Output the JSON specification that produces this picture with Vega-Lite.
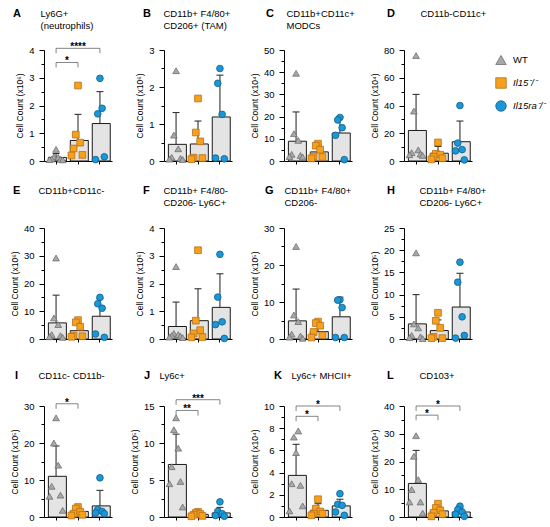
{
  "$schema": "https://vega.github.io/schema/vega-lite/v6.json",
  "background": "white",
  "padding": {"left": 10, "top": 8, "right": 2, "bottom": 5},
  "bounds": "flush",
  "columns": 4,
  "spacing": {"row": 67, "column": 52},
  "concat": [
    {
      "width": 68, "height": 111,
      "title": {"text": "A", "dx": -31},
      "encoding": {"x": {"field": "g", "type": "nominal", "title": null, "scale": {"domain": ["WT", "Il15", "Il15ra"], "paddingInner": 0.3, "paddingOuter": 0.2}, "axis": {"orient": "bottom", "domain": false, "ticks": false}}},
      "layer": [
        {"data": {"name": "bars"}, "transform": [{"filter": "datum.p == 'A'"}], "mark": {"type": "rule", "color": "#333", "strokeWidth": 1.1},
         "encoding": {"x": {"field": "g", "type": "nominal", "title": null, "axis": {"orient": "top", "title": ["Ly6G+", "(neutrophils)"], "titleX": -4, "titleY": -42}}, "y": {"field": "mean", "type": "quantitative"}, "y2": {"field": "hi"}}},
        {"data": {"name": "bars"}, "transform": [{"filter": "datum.p == 'A'"}], "mark": {"type": "bar", "fill": "#e4e4e4", "stroke": "#1a1a1a", "strokeWidth": 1},
         "encoding": {"x": {"field": "g", "type": "nominal", "title": null, "axis": {"orient": "bottom"}}, "y": {"field": "mean", "type": "quantitative", "scale": {"domain": [0, 4], "nice": false}, "axis": {"title": "Cell Count (x10⁶)", "values": [0, 0.5, 1, 1.5, 2, 2.5, 3, 3.5, 4], "format": "~g", "tickCount": 50, "labelOverlap": false, "labelExpr": "datum.value % 1 == 0 ? datum.label : ''", "tickSize": {"condition": {"test": "datum.value % 1 == 0", "value": 5}, "value": 3}}}}},
        {"data": {"name": "bars"}, "transform": [{"filter": "datum.p == 'A'"}], "mark": {"type": "tick", "orient": "horizontal", "size": 7, "thickness": 1.1, "color": "#333", "opacity": 1},
         "encoding": {"y": {"field": "hi", "type": "quantitative"}}},
        {"data": {"name": "pts"}, "transform": [{"filter": "datum.p == 'A'"}], "mark": {"type": "point", "filled": true, "size": 45, "strokeWidth": 0.8, "opacity": 1},
         "encoding": {
           "y": {"field": "v", "type": "quantitative"},
           "xOffset": {"field": "m", "type": "nominal", "scale": {"domain": [1, 2, 3, 4, 5, 6, 7]}},
           "shape": {"field": "g", "type": "nominal", "scale": {"domain": ["WT", "Il15", "Il15ra"], "range": ["triangle-up", "square", "circle"]}, "legend": {"title": null, "labelExpr": "datum.value == 'Il15' ? 'Il15⁻/⁻' : datum.value == 'Il15ra' ? 'Il15ra⁻/⁻' : datum.value", "labelFontStyle": {"expr": "datum.value == 'WT' ? 'normal' : 'italic'"}}},
           "fill": {"field": "g", "type": "nominal", "scale": {"domain": ["WT", "Il15", "Il15ra"], "range": ["#a8a8a8", "#f7a01c", "#1b96d6"]}, "legend": {"title": null, "labelExpr": "datum.value == 'Il15' ? 'Il15⁻/⁻' : datum.value == 'Il15ra' ? 'Il15ra⁻/⁻' : datum.value", "labelFontStyle": {"expr": "datum.value == 'WT' ? 'normal' : 'italic'"}}},
           "stroke": {"field": "g", "type": "nominal", "scale": {"domain": ["WT", "Il15", "Il15ra"], "range": ["#6f6f6f", "#b5701a", "#0f5f8c"]}, "legend": {"title": null, "labelExpr": "datum.value == 'Il15' ? 'Il15⁻/⁻' : datum.value == 'Il15ra' ? 'Il15ra⁻/⁻' : datum.value", "labelFontStyle": {"expr": "datum.value == 'WT' ? 'normal' : 'italic'"}}}
         }},
        {"data": {"name": "sig"}, "transform": [{"filter": "datum.p == 'A'"}], "mark": {"type": "rule", "color": "#666", "strokeWidth": 0.8},
         "encoding": {"x": {"field": "a", "type": "nominal", "title": null, "axis": {"orient": "bottom", "domain": false, "ticks": false}}, "x2": {"field": "b"}, "y": {"field": "y", "type": "quantitative"}}},
        {"data": {"name": "sig"}, "transform": [{"filter": "datum.p == 'A'"}, {"fold": ["a", "b"], "as": ["end", "grp"]}], "mark": {"type": "tick", "orient": "vertical", "size": 5, "thickness": 0.8, "color": "#666", "opacity": 1, "yOffset": 2.5},
         "encoding": {"x": {"field": "grp", "type": "nominal", "title": null, "axis": {"orient": "bottom", "domain": false, "ticks": false}}, "y": {"field": "y", "type": "quantitative"}}},
        {"data": {"name": "sig"}, "transform": [{"filter": "datum.p == 'A' && datum.b == 'Il15'"}], "mark": {"type": "text", "dx": 11, "dy": 2, "baseline": "alphabetic", "fontSize": 10, "fontWeight": "bold"},
         "encoding": {"x": {"field": "a", "type": "nominal", "title": null, "axis": {"orient": "bottom", "domain": false, "ticks": false}}, "y": {"field": "y", "type": "quantitative"}, "text": {"field": "lab"}}},
        {"data": {"name": "sig"}, "transform": [{"filter": "datum.p == 'A' && datum.b == 'Il15ra'"}], "mark": {"type": "text", "dx": 22, "dy": 2, "baseline": "alphabetic", "fontSize": 10, "fontWeight": "bold"},
         "encoding": {"x": {"field": "a", "type": "nominal", "title": null, "axis": {"orient": "bottom", "domain": false, "ticks": false}}, "y": {"field": "y", "type": "quantitative"}, "text": {"field": "lab"}}}
      ]
    },
    {
      "width": 68, "height": 111,
      "title": {"text": "B", "dx": -21},
      "encoding": {"x": {"field": "g", "type": "nominal", "title": null, "scale": {"domain": ["WT", "Il15", "Il15ra"], "paddingInner": 0.3, "paddingOuter": 0.2}, "axis": {"orient": "bottom", "domain": false, "ticks": false}}},
      "layer": [
        {"data": {"name": "bars"}, "transform": [{"filter": "datum.p == 'B'"}], "mark": {"type": "rule", "color": "#333", "strokeWidth": 1.1},
         "encoding": {"x": {"field": "g", "type": "nominal", "title": null, "axis": {"orient": "top", "title": ["CD11b+ F4/80+", "CD206+ (TAM)"], "titleX": -1, "titleY": -42}}, "y": {"field": "mean", "type": "quantitative"}, "y2": {"field": "hi"}}},
        {"data": {"name": "bars"}, "transform": [{"filter": "datum.p == 'B'"}], "mark": {"type": "bar", "fill": "#e4e4e4", "stroke": "#1a1a1a", "strokeWidth": 1},
         "encoding": {"x": {"field": "g", "type": "nominal", "title": null, "axis": {"orient": "bottom"}}, "y": {"field": "mean", "type": "quantitative", "scale": {"domain": [0, 3], "nice": false}, "axis": {"title": "Cell Count (x10⁶)", "values": [0, 0.5, 1, 1.5, 2, 2.5, 3], "format": "~g", "tickCount": 50, "labelOverlap": false, "labelExpr": "datum.value % 1 == 0 ? datum.label : ''", "tickSize": {"condition": {"test": "datum.value % 1 == 0", "value": 5}, "value": 3}}}}},
        {"data": {"name": "bars"}, "transform": [{"filter": "datum.p == 'B'"}], "mark": {"type": "tick", "orient": "horizontal", "size": 7, "thickness": 1.1, "color": "#333", "opacity": 1},
         "encoding": {"y": {"field": "hi", "type": "quantitative"}}},
        {"data": {"name": "pts"}, "transform": [{"filter": "datum.p == 'B'"}], "mark": {"type": "point", "filled": true, "size": 45, "strokeWidth": 0.8, "opacity": 1},
         "encoding": {"y": {"field": "v", "type": "quantitative"}, "xOffset": {"field": "m", "type": "nominal"}, "shape": {"field": "g", "type": "nominal"}, "fill": {"field": "g", "type": "nominal"}, "stroke": {"field": "g", "type": "nominal"}}}
      ]
    },
    {
      "width": 68, "height": 111,
      "title": {"text": "C", "dx": -18},
      "encoding": {"x": {"field": "g", "type": "nominal", "title": null, "scale": {"domain": ["WT", "Il15", "Il15ra"], "paddingInner": 0.3, "paddingOuter": 0.2}, "axis": {"orient": "bottom", "domain": false, "ticks": false}}},
      "layer": [
        {"data": {"name": "bars"}, "transform": [{"filter": "datum.p == 'C'"}], "mark": {"type": "rule", "color": "#333", "strokeWidth": 1.1},
         "encoding": {"x": {"field": "g", "type": "nominal", "title": null, "axis": {"orient": "top", "title": ["CD11b+CD11c+", "MODCs"], "titleX": 2, "titleY": -42}}, "y": {"field": "mean", "type": "quantitative"}, "y2": {"field": "hi"}}},
        {"data": {"name": "bars"}, "transform": [{"filter": "datum.p == 'C'"}], "mark": {"type": "bar", "fill": "#e4e4e4", "stroke": "#1a1a1a", "strokeWidth": 1},
         "encoding": {"x": {"field": "g", "type": "nominal", "title": null, "axis": {"orient": "bottom"}}, "y": {"field": "mean", "type": "quantitative", "scale": {"domain": [0, 50], "nice": false}, "axis": {"title": "Cell Count (x10⁴)", "values": [0, 5, 10, 15, 20, 25, 30, 35, 40, 45, 50], "format": "~g", "tickCount": 50, "labelOverlap": false, "labelExpr": "datum.value % 10 == 0 ? datum.label : ''", "tickSize": {"condition": {"test": "datum.value % 10 == 0", "value": 5}, "value": 3}}}}},
        {"data": {"name": "bars"}, "transform": [{"filter": "datum.p == 'C'"}], "mark": {"type": "tick", "orient": "horizontal", "size": 7, "thickness": 1.1, "color": "#333", "opacity": 1},
         "encoding": {"y": {"field": "hi", "type": "quantitative"}}},
        {"data": {"name": "pts"}, "transform": [{"filter": "datum.p == 'C'"}], "mark": {"type": "point", "filled": true, "size": 45, "strokeWidth": 0.8, "opacity": 1},
         "encoding": {"y": {"field": "v", "type": "quantitative"}, "xOffset": {"field": "m", "type": "nominal"}, "shape": {"field": "g", "type": "nominal"}, "fill": {"field": "g", "type": "nominal"}, "stroke": {"field": "g", "type": "nominal"}}}
      ]
    },
    {
      "width": 68, "height": 111,
      "title": {"text": "D", "dx": -17},
      "encoding": {"x": {"field": "g", "type": "nominal", "title": null, "scale": {"domain": ["WT", "Il15", "Il15ra"], "paddingInner": 0.3, "paddingOuter": 0.2}, "axis": {"orient": "bottom", "domain": false, "ticks": false}}},
      "layer": [
        {"data": {"name": "bars"}, "transform": [{"filter": "datum.p == 'D'"}], "mark": {"type": "rule", "color": "#333", "strokeWidth": 1.1},
         "encoding": {"x": {"field": "g", "type": "nominal", "title": null, "axis": {"orient": "top", "title": "CD11b-CD11c+", "titleX": 16, "titleY": -42}}, "y": {"field": "mean", "type": "quantitative"}, "y2": {"field": "hi"}}},
        {"data": {"name": "bars"}, "transform": [{"filter": "datum.p == 'D'"}], "mark": {"type": "bar", "fill": "#e4e4e4", "stroke": "#1a1a1a", "strokeWidth": 1},
         "encoding": {"x": {"field": "g", "type": "nominal", "title": null, "axis": {"orient": "bottom"}}, "y": {"field": "mean", "type": "quantitative", "scale": {"domain": [0, 80], "nice": false}, "axis": {"title": "Cell Count (x10⁴)", "values": [0, 10, 20, 30, 40, 50, 60, 70, 80], "format": "~g", "tickCount": 50, "labelOverlap": false, "labelExpr": "datum.value % 20 == 0 ? datum.label : ''", "tickSize": {"condition": {"test": "datum.value % 20 == 0", "value": 5}, "value": 3}}}}},
        {"data": {"name": "bars"}, "transform": [{"filter": "datum.p == 'D'"}], "mark": {"type": "tick", "orient": "horizontal", "size": 7, "thickness": 1.1, "color": "#333", "opacity": 1},
         "encoding": {"y": {"field": "hi", "type": "quantitative"}}},
        {"data": {"name": "pts"}, "transform": [{"filter": "datum.p == 'D'"}], "mark": {"type": "point", "filled": true, "size": 45, "strokeWidth": 0.8, "opacity": 1},
         "encoding": {"y": {"field": "v", "type": "quantitative"}, "xOffset": {"field": "m", "type": "nominal"}, "shape": {"field": "g", "type": "nominal"}, "fill": {"field": "g", "type": "nominal"}, "stroke": {"field": "g", "type": "nominal"}}}
      ]
    },
    {
      "width": 68, "height": 111,
      "title": {"text": "E", "dx": -31},
      "encoding": {"x": {"field": "g", "type": "nominal", "title": null, "scale": {"domain": ["WT", "Il15", "Il15ra"], "paddingInner": 0.3, "paddingOuter": 0.2}, "axis": {"orient": "bottom", "domain": false, "ticks": false}}},
      "layer": [
        {"data": {"name": "bars"}, "transform": [{"filter": "datum.p == 'E'"}], "mark": {"type": "rule", "color": "#333", "strokeWidth": 1.1},
         "encoding": {"x": {"field": "g", "type": "nominal", "title": null, "axis": {"orient": "top", "title": "CD11b+CD11c-", "titleX": -6, "titleY": -43}}, "y": {"field": "mean", "type": "quantitative"}, "y2": {"field": "hi"}}},
        {"data": {"name": "bars"}, "transform": [{"filter": "datum.p == 'E'"}], "mark": {"type": "bar", "fill": "#e4e4e4", "stroke": "#1a1a1a", "strokeWidth": 1},
         "encoding": {"x": {"field": "g", "type": "nominal", "title": null, "axis": {"orient": "bottom"}}, "y": {"field": "mean", "type": "quantitative", "scale": {"domain": [0, 40], "nice": false}, "axis": {"title": "Cell Count (x10⁶)", "values": [0, 5, 10, 15, 20, 25, 30, 35, 40], "format": "~g", "tickCount": 50, "labelOverlap": false, "labelExpr": "datum.value % 10 == 0 ? datum.label : ''", "tickSize": {"condition": {"test": "datum.value % 10 == 0", "value": 5}, "value": 3}}}}},
        {"data": {"name": "bars"}, "transform": [{"filter": "datum.p == 'E'"}], "mark": {"type": "tick", "orient": "horizontal", "size": 7, "thickness": 1.1, "color": "#333", "opacity": 1},
         "encoding": {"y": {"field": "hi", "type": "quantitative"}}},
        {"data": {"name": "pts"}, "transform": [{"filter": "datum.p == 'E'"}], "mark": {"type": "point", "filled": true, "size": 45, "strokeWidth": 0.8, "opacity": 1},
         "encoding": {"y": {"field": "v", "type": "quantitative"}, "xOffset": {"field": "m", "type": "nominal"}, "shape": {"field": "g", "type": "nominal"}, "fill": {"field": "g", "type": "nominal"}, "stroke": {"field": "g", "type": "nominal"}}}
      ]
    },
    {
      "width": 68, "height": 111,
      "title": {"text": "F", "dx": -21},
      "encoding": {"x": {"field": "g", "type": "nominal", "title": null, "scale": {"domain": ["WT", "Il15", "Il15ra"], "paddingInner": 0.3, "paddingOuter": 0.2}, "axis": {"orient": "bottom", "domain": false, "ticks": false}}},
      "layer": [
        {"data": {"name": "bars"}, "transform": [{"filter": "datum.p == 'F'"}], "mark": {"type": "rule", "color": "#333", "strokeWidth": 1.1},
         "encoding": {"x": {"field": "g", "type": "nominal", "title": null, "axis": {"orient": "top", "title": ["CD11b+ F4/80-", " CD206- Ly6C+"], "titleX": -1, "titleY": -43}}, "y": {"field": "mean", "type": "quantitative"}, "y2": {"field": "hi"}}},
        {"data": {"name": "bars"}, "transform": [{"filter": "datum.p == 'F'"}], "mark": {"type": "bar", "fill": "#e4e4e4", "stroke": "#1a1a1a", "strokeWidth": 1},
         "encoding": {"x": {"field": "g", "type": "nominal", "title": null, "axis": {"orient": "bottom"}}, "y": {"field": "mean", "type": "quantitative", "scale": {"domain": [0, 4], "nice": false}, "axis": {"title": "Cell Count (x10⁶)", "values": [0, 0.5, 1, 1.5, 2, 2.5, 3, 3.5, 4], "format": "~g", "tickCount": 50, "labelOverlap": false, "labelExpr": "datum.value % 1 == 0 ? datum.label : ''", "tickSize": {"condition": {"test": "datum.value % 1 == 0", "value": 5}, "value": 3}}}}},
        {"data": {"name": "bars"}, "transform": [{"filter": "datum.p == 'F'"}], "mark": {"type": "tick", "orient": "horizontal", "size": 7, "thickness": 1.1, "color": "#333", "opacity": 1},
         "encoding": {"y": {"field": "hi", "type": "quantitative"}}},
        {"data": {"name": "pts"}, "transform": [{"filter": "datum.p == 'F'"}], "mark": {"type": "point", "filled": true, "size": 45, "strokeWidth": 0.8, "opacity": 1},
         "encoding": {"y": {"field": "v", "type": "quantitative"}, "xOffset": {"field": "m", "type": "nominal"}, "shape": {"field": "g", "type": "nominal"}, "fill": {"field": "g", "type": "nominal"}, "stroke": {"field": "g", "type": "nominal"}}}
      ]
    },
    {
      "width": 68, "height": 111,
      "title": {"text": "G", "dx": -19},
      "encoding": {"x": {"field": "g", "type": "nominal", "title": null, "scale": {"domain": ["WT", "Il15", "Il15ra"], "paddingInner": 0.3, "paddingOuter": 0.2}, "axis": {"orient": "bottom", "domain": false, "ticks": false}}},
      "layer": [
        {"data": {"name": "bars"}, "transform": [{"filter": "datum.p == 'G'"}], "mark": {"type": "rule", "color": "#333", "strokeWidth": 1.1},
         "encoding": {"x": {"field": "g", "type": "nominal", "title": null, "axis": {"orient": "top", "title": ["CD11b+ F4/80+", " CD206-"], "titleX": 0, "titleY": -43}}, "y": {"field": "mean", "type": "quantitative"}, "y2": {"field": "hi"}}},
        {"data": {"name": "bars"}, "transform": [{"filter": "datum.p == 'G'"}], "mark": {"type": "bar", "fill": "#e4e4e4", "stroke": "#1a1a1a", "strokeWidth": 1},
         "encoding": {"x": {"field": "g", "type": "nominal", "title": null, "axis": {"orient": "bottom"}}, "y": {"field": "mean", "type": "quantitative", "scale": {"domain": [0, 30], "nice": false}, "axis": {"title": "Cell Count (x10⁵)", "values": [0, 5, 10, 15, 20, 25, 30], "format": "~g", "tickCount": 50, "labelOverlap": false, "labelExpr": "datum.value % 10 == 0 ? datum.label : ''", "tickSize": {"condition": {"test": "datum.value % 10 == 0", "value": 5}, "value": 3}}}}},
        {"data": {"name": "bars"}, "transform": [{"filter": "datum.p == 'G'"}], "mark": {"type": "tick", "orient": "horizontal", "size": 7, "thickness": 1.1, "color": "#333", "opacity": 1},
         "encoding": {"y": {"field": "hi", "type": "quantitative"}}},
        {"data": {"name": "pts"}, "transform": [{"filter": "datum.p == 'G'"}], "mark": {"type": "point", "filled": true, "size": 45, "strokeWidth": 0.8, "opacity": 1},
         "encoding": {"y": {"field": "v", "type": "quantitative"}, "xOffset": {"field": "m", "type": "nominal"}, "shape": {"field": "g", "type": "nominal"}, "fill": {"field": "g", "type": "nominal"}, "stroke": {"field": "g", "type": "nominal"}}}
      ]
    },
    {
      "width": 68, "height": 111,
      "title": {"text": "H", "dx": -17},
      "encoding": {"x": {"field": "g", "type": "nominal", "title": null, "scale": {"domain": ["WT", "Il15", "Il15ra"], "paddingInner": 0.3, "paddingOuter": 0.2}, "axis": {"orient": "bottom", "domain": false, "ticks": false}}},
      "layer": [
        {"data": {"name": "bars"}, "transform": [{"filter": "datum.p == 'H'"}], "mark": {"type": "rule", "color": "#333", "strokeWidth": 1.1},
         "encoding": {"x": {"field": "g", "type": "nominal", "title": null, "axis": {"orient": "top", "title": ["CD11b+ F4/80+", "CD206- Ly6C+"], "titleX": 15, "titleY": -43}}, "y": {"field": "mean", "type": "quantitative"}, "y2": {"field": "hi"}}},
        {"data": {"name": "bars"}, "transform": [{"filter": "datum.p == 'H'"}], "mark": {"type": "bar", "fill": "#e4e4e4", "stroke": "#1a1a1a", "strokeWidth": 1},
         "encoding": {"x": {"field": "g", "type": "nominal", "title": null, "axis": {"orient": "bottom"}}, "y": {"field": "mean", "type": "quantitative", "scale": {"domain": [0, 25], "nice": false}, "axis": {"title": "Cell Count (x10⁵)", "values": [0, 2.5, 5, 7.5, 10, 12.5, 15, 17.5, 20, 22.5, 25], "format": "~g", "tickCount": 50, "labelOverlap": false, "labelExpr": "datum.value % 5 == 0 ? datum.label : ''", "tickSize": {"condition": {"test": "datum.value % 5 == 0", "value": 5}, "value": 3}}}}},
        {"data": {"name": "bars"}, "transform": [{"filter": "datum.p == 'H'"}], "mark": {"type": "tick", "orient": "horizontal", "size": 7, "thickness": 1.1, "color": "#333", "opacity": 1},
         "encoding": {"y": {"field": "hi", "type": "quantitative"}}},
        {"data": {"name": "pts"}, "transform": [{"filter": "datum.p == 'H'"}], "mark": {"type": "point", "filled": true, "size": 45, "strokeWidth": 0.8, "opacity": 1},
         "encoding": {"y": {"field": "v", "type": "quantitative"}, "xOffset": {"field": "m", "type": "nominal"}, "shape": {"field": "g", "type": "nominal"}, "fill": {"field": "g", "type": "nominal"}, "stroke": {"field": "g", "type": "nominal"}}}
      ]
    },
    {
      "width": 68, "height": 111,
      "title": {"text": "I", "dx": -29},
      "encoding": {"x": {"field": "g", "type": "nominal", "title": null, "scale": {"domain": ["WT", "Il15", "Il15ra"], "paddingInner": 0.3, "paddingOuter": 0.2}, "axis": {"orient": "bottom", "domain": false, "ticks": false}}},
      "layer": [
        {"data": {"name": "bars"}, "transform": [{"filter": "datum.p == 'I'"}], "mark": {"type": "rule", "color": "#333", "strokeWidth": 1.1},
         "encoding": {"x": {"field": "g", "type": "nominal", "title": null, "axis": {"orient": "top", "title": "CD11c- CD11b-", "titleX": -6, "titleY": -36}}, "y": {"field": "mean", "type": "quantitative"}, "y2": {"field": "hi"}}},
        {"data": {"name": "bars"}, "transform": [{"filter": "datum.p == 'I'"}], "mark": {"type": "bar", "fill": "#e4e4e4", "stroke": "#1a1a1a", "strokeWidth": 1},
         "encoding": {"x": {"field": "g", "type": "nominal", "title": null, "axis": {"orient": "bottom"}}, "y": {"field": "mean", "type": "quantitative", "scale": {"domain": [0, 30], "nice": false}, "axis": {"title": "Cell Count (x10⁵)", "values": [0, 5, 10, 15, 20, 25, 30], "format": "~g", "tickCount": 50, "labelOverlap": false, "labelExpr": "datum.value % 10 == 0 ? datum.label : ''", "tickSize": {"condition": {"test": "datum.value % 10 == 0", "value": 5}, "value": 3}}}}},
        {"data": {"name": "bars"}, "transform": [{"filter": "datum.p == 'I'"}], "mark": {"type": "tick", "orient": "horizontal", "size": 7, "thickness": 1.1, "color": "#333", "opacity": 1},
         "encoding": {"y": {"field": "hi", "type": "quantitative"}}},
        {"data": {"name": "pts"}, "transform": [{"filter": "datum.p == 'I'"}], "mark": {"type": "point", "filled": true, "size": 45, "strokeWidth": 0.8, "opacity": 1},
         "encoding": {"y": {"field": "v", "type": "quantitative"}, "xOffset": {"field": "m", "type": "nominal"}, "shape": {"field": "g", "type": "nominal"}, "fill": {"field": "g", "type": "nominal"}, "stroke": {"field": "g", "type": "nominal"}}},
        {"data": {"name": "sig"}, "transform": [{"filter": "datum.p == 'I'"}], "mark": {"type": "rule", "color": "#666", "strokeWidth": 0.8},
         "encoding": {"x": {"field": "a", "type": "nominal", "title": null, "axis": {"orient": "bottom", "domain": false, "ticks": false}}, "x2": {"field": "b"}, "y": {"field": "y", "type": "quantitative"}}},
        {"data": {"name": "sig"}, "transform": [{"filter": "datum.p == 'I'"}, {"fold": ["a", "b"], "as": ["end", "grp"]}], "mark": {"type": "tick", "orient": "vertical", "size": 5, "thickness": 0.8, "color": "#666", "opacity": 1, "yOffset": 2.5},
         "encoding": {"x": {"field": "grp", "type": "nominal", "title": null, "axis": {"orient": "bottom", "domain": false, "ticks": false}}, "y": {"field": "y", "type": "quantitative"}}},
        {"data": {"name": "sig"}, "transform": [{"filter": "datum.p == 'I' && datum.b == 'Il15'"}], "mark": {"type": "text", "dx": 11, "dy": 2, "baseline": "alphabetic", "fontSize": 10, "fontWeight": "bold"},
         "encoding": {"x": {"field": "a", "type": "nominal", "title": null, "axis": {"orient": "bottom", "domain": false, "ticks": false}}, "y": {"field": "y", "type": "quantitative"}, "text": {"field": "lab"}}}
      ]
    },
    {
      "width": 68, "height": 111,
      "title": {"text": "J", "dx": -20},
      "encoding": {"x": {"field": "g", "type": "nominal", "title": null, "scale": {"domain": ["WT", "Il15", "Il15ra"], "paddingInner": 0.3, "paddingOuter": 0.2}, "axis": {"orient": "bottom", "domain": false, "ticks": false}}},
      "layer": [
        {"data": {"name": "bars"}, "transform": [{"filter": "datum.p == 'J'"}], "mark": {"type": "rule", "color": "#333", "strokeWidth": 1.1},
         "encoding": {"x": {"field": "g", "type": "nominal", "title": null, "axis": {"orient": "top", "title": "Ly6c+", "titleX": -5, "titleY": -36}}, "y": {"field": "mean", "type": "quantitative"}, "y2": {"field": "hi"}}},
        {"data": {"name": "bars"}, "transform": [{"filter": "datum.p == 'J'"}], "mark": {"type": "bar", "fill": "#e4e4e4", "stroke": "#1a1a1a", "strokeWidth": 1},
         "encoding": {"x": {"field": "g", "type": "nominal", "title": null, "axis": {"orient": "bottom"}}, "y": {"field": "mean", "type": "quantitative", "scale": {"domain": [0, 15], "nice": false}, "axis": {"title": "Cell Count (x10⁵)", "values": [0, 2.5, 5, 7.5, 10, 12.5, 15], "format": "~g", "tickCount": 50, "labelOverlap": false, "labelExpr": "datum.value % 5 == 0 ? datum.label : ''", "tickSize": {"condition": {"test": "datum.value % 5 == 0", "value": 5}, "value": 3}}}}},
        {"data": {"name": "bars"}, "transform": [{"filter": "datum.p == 'J'"}], "mark": {"type": "tick", "orient": "horizontal", "size": 7, "thickness": 1.1, "color": "#333", "opacity": 1},
         "encoding": {"y": {"field": "hi", "type": "quantitative"}}},
        {"data": {"name": "pts"}, "transform": [{"filter": "datum.p == 'J'"}], "mark": {"type": "point", "filled": true, "size": 45, "strokeWidth": 0.8, "opacity": 1},
         "encoding": {"y": {"field": "v", "type": "quantitative"}, "xOffset": {"field": "m", "type": "nominal"}, "shape": {"field": "g", "type": "nominal"}, "fill": {"field": "g", "type": "nominal"}, "stroke": {"field": "g", "type": "nominal"}}},
        {"data": {"name": "sig"}, "transform": [{"filter": "datum.p == 'J'"}], "mark": {"type": "rule", "color": "#666", "strokeWidth": 0.8},
         "encoding": {"x": {"field": "a", "type": "nominal", "title": null, "axis": {"orient": "bottom", "domain": false, "ticks": false}}, "x2": {"field": "b"}, "y": {"field": "y", "type": "quantitative"}}},
        {"data": {"name": "sig"}, "transform": [{"filter": "datum.p == 'J'"}, {"fold": ["a", "b"], "as": ["end", "grp"]}], "mark": {"type": "tick", "orient": "vertical", "size": 5, "thickness": 0.8, "color": "#666", "opacity": 1, "yOffset": 2.5},
         "encoding": {"x": {"field": "grp", "type": "nominal", "title": null, "axis": {"orient": "bottom", "domain": false, "ticks": false}}, "y": {"field": "y", "type": "quantitative"}}},
        {"data": {"name": "sig"}, "transform": [{"filter": "datum.p == 'J' && datum.b == 'Il15'"}], "mark": {"type": "text", "dx": 11, "dy": 2, "baseline": "alphabetic", "fontSize": 10, "fontWeight": "bold"},
         "encoding": {"x": {"field": "a", "type": "nominal", "title": null, "axis": {"orient": "bottom", "domain": false, "ticks": false}}, "y": {"field": "y", "type": "quantitative"}, "text": {"field": "lab"}}},
        {"data": {"name": "sig"}, "transform": [{"filter": "datum.p == 'J' && datum.b == 'Il15ra'"}], "mark": {"type": "text", "dx": 22, "dy": 2, "baseline": "alphabetic", "fontSize": 10, "fontWeight": "bold"},
         "encoding": {"x": {"field": "a", "type": "nominal", "title": null, "axis": {"orient": "bottom", "domain": false, "ticks": false}}, "y": {"field": "y", "type": "quantitative"}, "text": {"field": "lab"}}}
      ]
    },
    {
      "width": 68, "height": 111,
      "title": {"text": "K", "dx": -10},
      "encoding": {"x": {"field": "g", "type": "nominal", "title": null, "scale": {"domain": ["WT", "Il15", "Il15ra"], "paddingInner": 0.3, "paddingOuter": 0.2}, "axis": {"orient": "bottom", "domain": false, "ticks": false}}},
      "layer": [
        {"data": {"name": "bars"}, "transform": [{"filter": "datum.p == 'K'"}], "mark": {"type": "rule", "color": "#333", "strokeWidth": 1.1},
         "encoding": {"x": {"field": "g", "type": "nominal", "title": null, "axis": {"orient": "top", "title": "Ly6c+ MHCII+", "titleX": 7, "titleY": -36}}, "y": {"field": "mean", "type": "quantitative"}, "y2": {"field": "hi"}}},
        {"data": {"name": "bars"}, "transform": [{"filter": "datum.p == 'K'"}], "mark": {"type": "bar", "fill": "#e4e4e4", "stroke": "#1a1a1a", "strokeWidth": 1},
         "encoding": {"x": {"field": "g", "type": "nominal", "title": null, "axis": {"orient": "bottom"}}, "y": {"field": "mean", "type": "quantitative", "scale": {"domain": [0, 10], "nice": false}, "axis": {"title": "Cell Count (x10⁴)", "values": [0, 1, 2, 3, 4, 5, 6, 7, 8, 9, 10], "format": "~g", "tickCount": 50, "labelOverlap": false, "labelExpr": "datum.value % 2 == 0 ? datum.label : ''", "tickSize": {"condition": {"test": "datum.value % 2 == 0", "value": 5}, "value": 3}}}}},
        {"data": {"name": "bars"}, "transform": [{"filter": "datum.p == 'K'"}], "mark": {"type": "tick", "orient": "horizontal", "size": 7, "thickness": 1.1, "color": "#333", "opacity": 1},
         "encoding": {"y": {"field": "hi", "type": "quantitative"}}},
        {"data": {"name": "pts"}, "transform": [{"filter": "datum.p == 'K'"}], "mark": {"type": "point", "filled": true, "size": 45, "strokeWidth": 0.8, "opacity": 1},
         "encoding": {"y": {"field": "v", "type": "quantitative"}, "xOffset": {"field": "m", "type": "nominal"}, "shape": {"field": "g", "type": "nominal"}, "fill": {"field": "g", "type": "nominal"}, "stroke": {"field": "g", "type": "nominal"}}},
        {"data": {"name": "sig"}, "transform": [{"filter": "datum.p == 'K'"}], "mark": {"type": "rule", "color": "#666", "strokeWidth": 0.8},
         "encoding": {"x": {"field": "a", "type": "nominal", "title": null, "axis": {"orient": "bottom", "domain": false, "ticks": false}}, "x2": {"field": "b"}, "y": {"field": "y", "type": "quantitative"}}},
        {"data": {"name": "sig"}, "transform": [{"filter": "datum.p == 'K'"}, {"fold": ["a", "b"], "as": ["end", "grp"]}], "mark": {"type": "tick", "orient": "vertical", "size": 5, "thickness": 0.8, "color": "#666", "opacity": 1, "yOffset": 2.5},
         "encoding": {"x": {"field": "grp", "type": "nominal", "title": null, "axis": {"orient": "bottom", "domain": false, "ticks": false}}, "y": {"field": "y", "type": "quantitative"}}},
        {"data": {"name": "sig"}, "transform": [{"filter": "datum.p == 'K' && datum.b == 'Il15'"}], "mark": {"type": "text", "dx": 11, "dy": 2, "baseline": "alphabetic", "fontSize": 10, "fontWeight": "bold"},
         "encoding": {"x": {"field": "a", "type": "nominal", "title": null, "axis": {"orient": "bottom", "domain": false, "ticks": false}}, "y": {"field": "y", "type": "quantitative"}, "text": {"field": "lab"}}},
        {"data": {"name": "sig"}, "transform": [{"filter": "datum.p == 'K' && datum.b == 'Il15ra'"}], "mark": {"type": "text", "dx": 22, "dy": 2, "baseline": "alphabetic", "fontSize": 10, "fontWeight": "bold"},
         "encoding": {"x": {"field": "a", "type": "nominal", "title": null, "axis": {"orient": "bottom", "domain": false, "ticks": false}}, "y": {"field": "y", "type": "quantitative"}, "text": {"field": "lab"}}}
      ]
    },
    {
      "width": 68, "height": 111,
      "title": {"text": "L", "dx": -17},
      "encoding": {"x": {"field": "g", "type": "nominal", "title": null, "scale": {"domain": ["WT", "Il15", "Il15ra"], "paddingInner": 0.3, "paddingOuter": 0.2}, "axis": {"orient": "bottom", "domain": false, "ticks": false}}},
      "layer": [
        {"data": {"name": "bars"}, "transform": [{"filter": "datum.p == 'L'"}], "mark": {"type": "rule", "color": "#333", "strokeWidth": 1.1},
         "encoding": {"x": {"field": "g", "type": "nominal", "title": null, "axis": {"orient": "top", "title": "CD103+", "titleX": 15, "titleY": -36}}, "y": {"field": "mean", "type": "quantitative"}, "y2": {"field": "hi"}}},
        {"data": {"name": "bars"}, "transform": [{"filter": "datum.p == 'L'"}], "mark": {"type": "bar", "fill": "#e4e4e4", "stroke": "#1a1a1a", "strokeWidth": 1},
         "encoding": {"x": {"field": "g", "type": "nominal", "title": null, "axis": {"orient": "bottom"}}, "y": {"field": "mean", "type": "quantitative", "scale": {"domain": [0, 40], "nice": false}, "axis": {"title": "Cell Count (x10⁴)", "values": [0, 5, 10, 15, 20, 25, 30, 35, 40], "format": "~g", "tickCount": 50, "labelOverlap": false, "labelExpr": "datum.value % 10 == 0 ? datum.label : ''", "tickSize": {"condition": {"test": "datum.value % 10 == 0", "value": 5}, "value": 3}}}}},
        {"data": {"name": "bars"}, "transform": [{"filter": "datum.p == 'L'"}], "mark": {"type": "tick", "orient": "horizontal", "size": 7, "thickness": 1.1, "color": "#333", "opacity": 1},
         "encoding": {"y": {"field": "hi", "type": "quantitative"}}},
        {"data": {"name": "pts"}, "transform": [{"filter": "datum.p == 'L'"}], "mark": {"type": "point", "filled": true, "size": 45, "strokeWidth": 0.8, "opacity": 1},
         "encoding": {"y": {"field": "v", "type": "quantitative"}, "xOffset": {"field": "m", "type": "nominal"}, "shape": {"field": "g", "type": "nominal"}, "fill": {"field": "g", "type": "nominal"}, "stroke": {"field": "g", "type": "nominal"}}},
        {"data": {"name": "sig"}, "transform": [{"filter": "datum.p == 'L'"}], "mark": {"type": "rule", "color": "#666", "strokeWidth": 0.8},
         "encoding": {"x": {"field": "a", "type": "nominal", "title": null, "axis": {"orient": "bottom", "domain": false, "ticks": false}}, "x2": {"field": "b"}, "y": {"field": "y", "type": "quantitative"}}},
        {"data": {"name": "sig"}, "transform": [{"filter": "datum.p == 'L'"}, {"fold": ["a", "b"], "as": ["end", "grp"]}], "mark": {"type": "tick", "orient": "vertical", "size": 5, "thickness": 0.8, "color": "#666", "opacity": 1, "yOffset": 2.5},
         "encoding": {"x": {"field": "grp", "type": "nominal", "title": null, "axis": {"orient": "bottom", "domain": false, "ticks": false}}, "y": {"field": "y", "type": "quantitative"}}},
        {"data": {"name": "sig"}, "transform": [{"filter": "datum.p == 'L' && datum.b == 'Il15'"}], "mark": {"type": "text", "dx": 11, "dy": 2, "baseline": "alphabetic", "fontSize": 10, "fontWeight": "bold"},
         "encoding": {"x": {"field": "a", "type": "nominal", "title": null, "axis": {"orient": "bottom", "domain": false, "ticks": false}}, "y": {"field": "y", "type": "quantitative"}, "text": {"field": "lab"}}},
        {"data": {"name": "sig"}, "transform": [{"filter": "datum.p == 'L' && datum.b == 'Il15ra'"}], "mark": {"type": "text", "dx": 22, "dy": 2, "baseline": "alphabetic", "fontSize": 10, "fontWeight": "bold"},
         "encoding": {"x": {"field": "a", "type": "nominal", "title": null, "axis": {"orient": "bottom", "domain": false, "ticks": false}}, "y": {"field": "y", "type": "quantitative"}, "text": {"field": "lab"}}}
      ]
    }
  ],
  "datasets": {
    "bars": [
      {"p": "A", "g": "WT", "mean": 0.13, "hi": 0.27}, {"p": "A", "g": "Il15", "mean": 0.74, "hi": 1.68}, {"p": "A", "g": "Il15ra", "mean": 1.35, "hi": 2.5},
      {"p": "B", "g": "WT", "mean": 0.45, "hi": 1.31}, {"p": "B", "g": "Il15", "mean": 0.46, "hi": 1.08}, {"p": "B", "g": "Il15ra", "mean": 1.19, "hi": 2.32},
      {"p": "C", "g": "WT", "mean": 8.9, "hi": 22.1}, {"p": "C", "g": "Il15", "mean": 4.1, "hi": 7.3}, {"p": "C", "g": "Il15ra", "mean": 12.6, "hi": 19.9},
      {"p": "D", "g": "WT", "mean": 22, "hi": 48}, {"p": "D", "g": "Il15", "mean": 5.6, "hi": 10.5}, {"p": "D", "g": "Il15ra", "mean": 13.9, "hi": 28.8},
      {"p": "E", "g": "WT", "mean": 5.8, "hi": 15.8}, {"p": "E", "g": "Il15", "mean": 3.0, "hi": 5.8}, {"p": "E", "g": "Il15ra", "mean": 8.2, "hi": 14.5},
      {"p": "F", "g": "WT", "mean": 0.45, "hi": 1.33}, {"p": "F", "g": "Il15", "mean": 0.66, "hi": 1.81}, {"p": "F", "g": "Il15ra", "mean": 1.14, "hi": 2.35},
      {"p": "G", "g": "WT", "mean": 4.9, "hi": 13.5}, {"p": "G", "g": "Il15", "mean": 2.0, "hi": 3.9}, {"p": "G", "g": "Il15ra", "mean": 6.0, "hi": 11.3},
      {"p": "H", "g": "WT", "mean": 3.4, "hi": 10.0}, {"p": "H", "g": "Il15", "mean": 1.9, "hi": 4.3}, {"p": "H", "g": "Il15ra", "mean": 7.2, "hi": 14.8},
      {"p": "I", "g": "WT", "mean": 11, "hi": 19.2}, {"p": "I", "g": "Il15", "mean": 1.5, "hi": 2.4}, {"p": "I", "g": "Il15ra", "mean": 3.0, "hi": 7.2},
      {"p": "J", "g": "WT", "mean": 7.1, "hi": 11.2}, {"p": "J", "g": "Il15", "mean": 0.35, "hi": 0.6}, {"p": "J", "g": "Il15ra", "mean": 0.55, "hi": 1.3},
      {"p": "K", "g": "WT", "mean": 3.75, "hi": 6.55}, {"p": "K", "g": "Il15", "mean": 0.6, "hi": 1.2}, {"p": "K", "g": "Il15ra", "mean": 1.0, "hi": 1.6},
      {"p": "L", "g": "WT", "mean": 12.1, "hi": 24}, {"p": "L", "g": "Il15", "mean": 2.2, "hi": 3.9}, {"p": "L", "g": "Il15ra", "mean": 1.8, "hi": 3.2}
    ],
    "sig": [
      {"p": "A", "a": "WT", "b": "Il15", "y": 3.55, "lab": "*"}, {"p": "A", "a": "WT", "b": "Il15ra", "y": 4.06, "lab": "****"},
      {"p": "I", "a": "WT", "b": "Il15", "y": 30.6, "lab": "*"},
      {"p": "J", "a": "WT", "b": "Il15", "y": 14.4, "lab": "**"}, {"p": "J", "a": "WT", "b": "Il15ra", "y": 15.85, "lab": "***"},
      {"p": "K", "a": "WT", "b": "Il15", "y": 9.07, "lab": "*"}, {"p": "K", "a": "WT", "b": "Il15ra", "y": 10.0, "lab": "*"},
      {"p": "L", "a": "WT", "b": "Il15", "y": 36.7, "lab": "*"}, {"p": "L", "a": "WT", "b": "Il15ra", "y": 40, "lab": "*"}
    ],
    "pts": [
      {"p": "A", "g": "WT", "m": 4, "v": 0.42}, {"p": "A", "g": "WT", "m": 3, "v": 0.15}, {"p": "A", "g": "WT", "m": 5, "v": 0.13}, {"p": "A", "g": "WT", "m": 2, "v": 0.07}, {"p": "A", "g": "WT", "m": 6, "v": 0.06}, {"p": "A", "g": "WT", "m": 1, "v": 0.05}, {"p": "A", "g": "WT", "m": 7, "v": 0.04},
      {"p": "A", "g": "Il15", "m": 4, "v": 2.72}, {"p": "A", "g": "Il15", "m": 3, "v": 0.95}, {"p": "A", "g": "Il15", "m": 5, "v": 0.66}, {"p": "A", "g": "Il15", "m": 2, "v": 0.45}, {"p": "A", "g": "Il15", "m": 6, "v": 0.22}, {"p": "A", "g": "Il15", "m": 1, "v": 0.2},
      {"p": "A", "g": "Il15ra", "m": 4, "v": 2.98}, {"p": "A", "g": "Il15ra", "m": 5, "v": 1.9}, {"p": "A", "g": "Il15ra", "m": 3, "v": 1.7}, {"p": "A", "g": "Il15ra", "m": 6, "v": 0.15}, {"p": "A", "g": "Il15ra", "m": 2, "v": 0.05},
      {"p": "B", "g": "WT", "m": 4, "v": 2.44}, {"p": "B", "g": "WT", "m": 3, "v": 0.7}, {"p": "B", "g": "WT", "m": 5, "v": 0.33}, {"p": "B", "g": "WT", "m": 2, "v": 0.1}, {"p": "B", "g": "WT", "m": 6, "v": 0.07}, {"p": "B", "g": "WT", "m": 1, "v": 0.05}, {"p": "B", "g": "WT", "m": 7, "v": 0.04},
      {"p": "B", "g": "Il15", "m": 4, "v": 1.69}, {"p": "B", "g": "Il15", "m": 3, "v": 0.77}, {"p": "B", "g": "Il15", "m": 5, "v": 0.53}, {"p": "B", "g": "Il15", "m": 2, "v": 0.09}, {"p": "B", "g": "Il15", "m": 6, "v": 0.08}, {"p": "B", "g": "Il15", "m": 1, "v": 0.05},
      {"p": "B", "g": "Il15ra", "m": 4, "v": 2.5}, {"p": "B", "g": "Il15ra", "m": 3, "v": 2.1}, {"p": "B", "g": "Il15ra", "m": 5, "v": 1.26}, {"p": "B", "g": "Il15ra", "m": 2, "v": 0.08}, {"p": "B", "g": "Il15ra", "m": 6, "v": 0.06},
      {"p": "C", "g": "WT", "m": 4, "v": 39.5}, {"p": "C", "g": "WT", "m": 3, "v": 12.3}, {"p": "C", "g": "WT", "m": 5, "v": 9.3}, {"p": "C", "g": "WT", "m": 2, "v": 3}, {"p": "C", "g": "WT", "m": 6, "v": 2.5}, {"p": "C", "g": "WT", "m": 1, "v": 2}, {"p": "C", "g": "WT", "m": 7, "v": 1.8},
      {"p": "C", "g": "Il15", "m": 4, "v": 7.8}, {"p": "C", "g": "Il15", "m": 3, "v": 6.9}, {"p": "C", "g": "Il15", "m": 5, "v": 5.1}, {"p": "C", "g": "Il15", "m": 2, "v": 2.1}, {"p": "C", "g": "Il15", "m": 6, "v": 1.8}, {"p": "C", "g": "Il15", "m": 1, "v": 1.2},
      {"p": "C", "g": "Il15ra", "m": 4, "v": 19.6}, {"p": "C", "g": "Il15ra", "m": 3, "v": 18.5}, {"p": "C", "g": "Il15ra", "m": 5, "v": 15}, {"p": "C", "g": "Il15ra", "m": 2, "v": 11.6}, {"p": "C", "g": "Il15ra", "m": 6, "v": 0.6},
      {"p": "D", "g": "WT", "m": 4, "v": 76}, {"p": "D", "g": "WT", "m": 3, "v": 36}, {"p": "D", "g": "WT", "m": 5, "v": 8}, {"p": "D", "g": "WT", "m": 2, "v": 6}, {"p": "D", "g": "WT", "m": 6, "v": 5}, {"p": "D", "g": "WT", "m": 1, "v": 4.5}, {"p": "D", "g": "WT", "m": 7, "v": 4},
      {"p": "D", "g": "Il15", "m": 4, "v": 13.4}, {"p": "D", "g": "Il15", "m": 3, "v": 5.2}, {"p": "D", "g": "Il15", "m": 5, "v": 4.5}, {"p": "D", "g": "Il15", "m": 2, "v": 3}, {"p": "D", "g": "Il15", "m": 6, "v": 2}, {"p": "D", "g": "Il15", "m": 1, "v": 1.2},
      {"p": "D", "g": "Il15ra", "m": 4, "v": 40}, {"p": "D", "g": "Il15ra", "m": 3, "v": 12.9}, {"p": "D", "g": "Il15ra", "m": 5, "v": 8.2}, {"p": "D", "g": "Il15ra", "m": 2, "v": 7.3}, {"p": "D", "g": "Il15ra", "m": 6, "v": 0.8},
      {"p": "E", "g": "WT", "m": 4, "v": 29.2}, {"p": "E", "g": "WT", "m": 3, "v": 7.6}, {"p": "E", "g": "WT", "m": 5, "v": 5.2}, {"p": "E", "g": "WT", "m": 2, "v": 1.6}, {"p": "E", "g": "WT", "m": 6, "v": 1.2}, {"p": "E", "g": "WT", "m": 1, "v": 0.8}, {"p": "E", "g": "WT", "m": 7, "v": 0.6},
      {"p": "E", "g": "Il15", "m": 4, "v": 6.8}, {"p": "E", "g": "Il15", "m": 3, "v": 6}, {"p": "E", "g": "Il15", "m": 5, "v": 4.4}, {"p": "E", "g": "Il15", "m": 2, "v": 1.2}, {"p": "E", "g": "Il15", "m": 6, "v": 1}, {"p": "E", "g": "Il15", "m": 1, "v": 0.8},
      {"p": "E", "g": "Il15ra", "m": 4, "v": 15}, {"p": "E", "g": "Il15ra", "m": 3, "v": 12.7}, {"p": "E", "g": "Il15ra", "m": 5, "v": 11.1}, {"p": "E", "g": "Il15ra", "m": 2, "v": 1.8}, {"p": "E", "g": "Il15ra", "m": 6, "v": 0.6},
      {"p": "F", "g": "WT", "m": 4, "v": 2.61}, {"p": "F", "g": "WT", "m": 3, "v": 0.2}, {"p": "F", "g": "WT", "m": 5, "v": 0.16}, {"p": "F", "g": "WT", "m": 2, "v": 0.12}, {"p": "F", "g": "WT", "m": 6, "v": 0.1}, {"p": "F", "g": "WT", "m": 1, "v": 0.07}, {"p": "F", "g": "WT", "m": 7, "v": 0.05},
      {"p": "F", "g": "Il15", "m": 4, "v": 3.2}, {"p": "F", "g": "Il15", "m": 3, "v": 0.66}, {"p": "F", "g": "Il15", "m": 5, "v": 0.32}, {"p": "F", "g": "Il15", "m": 2, "v": 0.2}, {"p": "F", "g": "Il15", "m": 6, "v": 0.07}, {"p": "F", "g": "Il15", "m": 1, "v": 0.06},
      {"p": "F", "g": "Il15ra", "m": 4, "v": 3.05}, {"p": "F", "g": "Il15ra", "m": 3, "v": 1.51}, {"p": "F", "g": "Il15ra", "m": 5, "v": 0.62}, {"p": "F", "g": "Il15ra", "m": 2, "v": 0.52}, {"p": "F", "g": "Il15ra", "m": 6, "v": 0.02},
      {"p": "G", "g": "WT", "m": 4, "v": 25}, {"p": "G", "g": "WT", "m": 3, "v": 6.5}, {"p": "G", "g": "WT", "m": 5, "v": 4.7}, {"p": "G", "g": "WT", "m": 2, "v": 1.3}, {"p": "G", "g": "WT", "m": 6, "v": 0.8}, {"p": "G", "g": "WT", "m": 1, "v": 0.5}, {"p": "G", "g": "WT", "m": 7, "v": 0.2},
      {"p": "G", "g": "Il15", "m": 4, "v": 4.7}, {"p": "G", "g": "Il15", "m": 3, "v": 4.3}, {"p": "G", "g": "Il15", "m": 5, "v": 3.6}, {"p": "G", "g": "Il15", "m": 2, "v": 1.9}, {"p": "G", "g": "Il15", "m": 6, "v": 1}, {"p": "G", "g": "Il15", "m": 1, "v": 0.4},
      {"p": "G", "g": "Il15ra", "m": 4, "v": 10.6}, {"p": "G", "g": "Il15ra", "m": 3, "v": 10.5}, {"p": "G", "g": "Il15ra", "m": 5, "v": 8.5}, {"p": "G", "g": "Il15ra", "m": 2, "v": 0.4}, {"p": "G", "g": "Il15ra", "m": 6, "v": 0.4},
      {"p": "H", "g": "WT", "m": 4, "v": 19.4}, {"p": "H", "g": "WT", "m": 3, "v": 3.4}, {"p": "H", "g": "WT", "m": 5, "v": 2.5}, {"p": "H", "g": "WT", "m": 2, "v": 0.8}, {"p": "H", "g": "WT", "m": 6, "v": 0.5}, {"p": "H", "g": "WT", "m": 1, "v": 0.3}, {"p": "H", "g": "WT", "m": 7, "v": 0.1},
      {"p": "H", "g": "Il15", "m": 4, "v": 5.9}, {"p": "H", "g": "Il15", "m": 3, "v": 4.1}, {"p": "H", "g": "Il15", "m": 5, "v": 2.5}, {"p": "H", "g": "Il15", "m": 2, "v": 0.5}, {"p": "H", "g": "Il15", "m": 6, "v": 0.2}, {"p": "H", "g": "Il15", "m": 1, "v": 0.2},
      {"p": "H", "g": "Il15ra", "m": 4, "v": 17.3}, {"p": "H", "g": "Il15ra", "m": 3, "v": 12.8}, {"p": "H", "g": "Il15ra", "m": 5, "v": 5}, {"p": "H", "g": "Il15ra", "m": 2, "v": 0.2}, {"p": "H", "g": "Il15ra", "m": 6, "v": 0.8},
      {"p": "I", "g": "WT", "m": 4, "v": 26.8}, {"p": "I", "g": "WT", "m": 3, "v": 20}, {"p": "I", "g": "WT", "m": 5, "v": 14}, {"p": "I", "g": "WT", "m": 2, "v": 8.3}, {"p": "I", "g": "WT", "m": 6, "v": 5.9}, {"p": "I", "g": "WT", "m": 1, "v": 5.6}, {"p": "I", "g": "WT", "m": 7, "v": 1.8},
      {"p": "I", "g": "Il15", "m": 4, "v": 2.7}, {"p": "I", "g": "Il15", "m": 3, "v": 2.3}, {"p": "I", "g": "Il15", "m": 5, "v": 1.4}, {"p": "I", "g": "Il15", "m": 2, "v": 0.9}, {"p": "I", "g": "Il15", "m": 6, "v": 0.6}, {"p": "I", "g": "Il15", "m": 1, "v": 0.4},
      {"p": "I", "g": "Il15ra", "m": 4, "v": 10.6}, {"p": "I", "g": "Il15ra", "m": 3, "v": 2}, {"p": "I", "g": "Il15ra", "m": 5, "v": 1.5}, {"p": "I", "g": "Il15ra", "m": 2, "v": 1.1}, {"p": "I", "g": "Il15ra", "m": 6, "v": 0.9},
      {"p": "J", "g": "WT", "m": 4, "v": 13.4}, {"p": "J", "g": "WT", "m": 3, "v": 11.8}, {"p": "J", "g": "WT", "m": 5, "v": 9.3}, {"p": "J", "g": "WT", "m": 2, "v": 6.8}, {"p": "J", "g": "WT", "m": 6, "v": 4.8}, {"p": "J", "g": "WT", "m": 1, "v": 4.5}, {"p": "J", "g": "WT", "m": 7, "v": 1.35},
      {"p": "J", "g": "Il15", "m": 4, "v": 0.7}, {"p": "J", "g": "Il15", "m": 3, "v": 0.55}, {"p": "J", "g": "Il15", "m": 5, "v": 0.4}, {"p": "J", "g": "Il15", "m": 2, "v": 0.3}, {"p": "J", "g": "Il15", "m": 6, "v": 0.15}, {"p": "J", "g": "Il15", "m": 1, "v": 0.1},
      {"p": "J", "g": "Il15ra", "m": 4, "v": 2.05}, {"p": "J", "g": "Il15ra", "m": 3, "v": 0.75}, {"p": "J", "g": "Il15ra", "m": 5, "v": 0.45}, {"p": "J", "g": "Il15ra", "m": 2, "v": 0.2}, {"p": "J", "g": "Il15ra", "m": 6, "v": 0.1},
      {"p": "K", "g": "WT", "m": 5, "v": 7.75}, {"p": "K", "g": "WT", "m": 3, "v": 7.2}, {"p": "K", "g": "WT", "m": 4, "v": 5.8}, {"p": "K", "g": "WT", "m": 2, "v": 3}, {"p": "K", "g": "WT", "m": 6, "v": 2.85}, {"p": "K", "g": "WT", "m": 7, "v": 1}, {"p": "K", "g": "WT", "m": 1, "v": 0.55},
      {"p": "K", "g": "Il15", "m": 4, "v": 1.6}, {"p": "K", "g": "Il15", "m": 3, "v": 0.75}, {"p": "K", "g": "Il15", "m": 5, "v": 0.5}, {"p": "K", "g": "Il15", "m": 2, "v": 0.3}, {"p": "K", "g": "Il15", "m": 6, "v": 0.3}, {"p": "K", "g": "Il15", "m": 1, "v": 0.15},
      {"p": "K", "g": "Il15ra", "m": 4, "v": 2.1}, {"p": "K", "g": "Il15ra", "m": 3, "v": 1.15}, {"p": "K", "g": "Il15ra", "m": 5, "v": 1.05}, {"p": "K", "g": "Il15ra", "m": 2, "v": 0.45}, {"p": "K", "g": "Il15ra", "m": 6, "v": 0.15},
      {"p": "L", "g": "WT", "m": 4, "v": 29.3}, {"p": "L", "g": "WT", "m": 3, "v": 21.9}, {"p": "L", "g": "WT", "m": 5, "v": 13.5}, {"p": "L", "g": "WT", "m": 2, "v": 9.9}, {"p": "L", "g": "WT", "m": 6, "v": 5.4}, {"p": "L", "g": "WT", "m": 1, "v": 5.4}, {"p": "L", "g": "WT", "m": 7, "v": 1.4},
      {"p": "L", "g": "Il15", "m": 4, "v": 4.8}, {"p": "L", "g": "Il15", "m": 3, "v": 3.25}, {"p": "L", "g": "Il15", "m": 5, "v": 2.4}, {"p": "L", "g": "Il15", "m": 2, "v": 1.5}, {"p": "L", "g": "Il15", "m": 6, "v": 1}, {"p": "L", "g": "Il15", "m": 1, "v": 0.25},
      {"p": "L", "g": "Il15ra", "m": 4, "v": 3.9}, {"p": "L", "g": "Il15ra", "m": 3, "v": 2.65}, {"p": "L", "g": "Il15ra", "m": 5, "v": 1.8}, {"p": "L", "g": "Il15ra", "m": 2, "v": 1}, {"p": "L", "g": "Il15ra", "m": 6, "v": 0.25}
    ]
  },
  "config": {
    "font": "Liberation Sans",
    "view": {"stroke": null},
    "axis": {"grid": false, "domainColor": "#000", "tickColor": "#000", "labelColor": "#000", "titleColor": "#000", "labelFont": "Liberation Sans", "titleFont": "Liberation Sans", "labelFontSize": 9.5, "titleFontSize": 8.5, "titleFontWeight": "normal", "domainWidth": 1, "tickWidth": 1, "tickSize": 5, "labelPadding": 5, "titlePadding": 4, "labelOverlap": false},
    "axisX": {"labels": false, "tickSize": 3},
    "axisTop": {"domain": false, "ticks": false, "labels": false, "titleAlign": "left", "titleBaseline": "top", "titleAngle": 0, "titleFontSize": 9.5, "titleFontWeight": "normal", "titleLineHeight": 12.5, "titlePadding": 0},
    "title": {"font": "Liberation Sans", "fontSize": 11, "fontWeight": "bold", "color": "#000", "anchor": "start", "frame": "group", "offset": -11},
    "legend": {"orient": "none", "legendX": 451, "legendY": 4, "padding": 0, "labelFont": "Liberation Sans", "labelFontSize": 9.5, "labelColor": "#000", "symbolSize": 110, "symbolStrokeWidth": 0.8, "rowPadding": 9, "labelOffset": 6}
  }
}
